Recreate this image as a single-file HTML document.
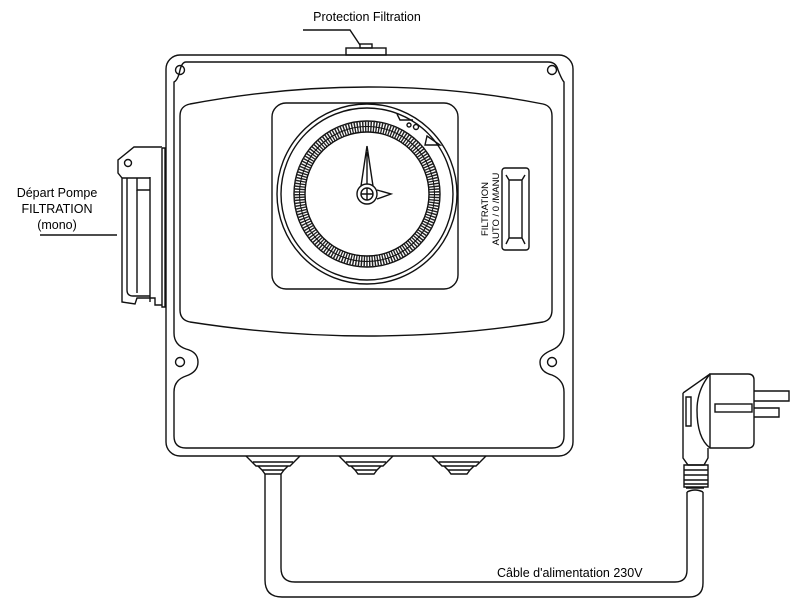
<!DOCTYPE html>
<html><head><meta charset="utf-8"><style>
html,body{margin:0;padding:0;background:#fff;width:800px;height:612px;overflow:hidden}
svg{display:block}
text{font-family:"Liberation Sans","DejaVu Sans",sans-serif;fill:#000}
</style></head><body>
<svg width="800" height="612" viewBox="0 0 800 612" xmlns="http://www.w3.org/2000/svg" fill="none" stroke="#111" stroke-width="1.4">
<!-- labels -->
<text x="367" y="21" font-size="12.5" text-anchor="middle" stroke="none">Protection Filtration</text>
<path d="M303 30 H350 L360 45"/>
<text x="57" y="197" font-size="12.5" text-anchor="middle" stroke="none">Départ Pompe</text>
<text x="57" y="213" font-size="12.5" text-anchor="middle" stroke="none">FILTRATION</text>
<text x="57" y="229" font-size="12.5" text-anchor="middle" stroke="none">(mono)</text>
<path d="M40 235 H117"/>
<text x="497" y="577" font-size="12.5" stroke="none">Câble d'alimentation 230V</text>

<!-- top knob -->
<rect x="346" y="48" width="40" height="7"/>
<rect x="360" y="44" width="12" height="4"/>

<!-- main box -->
<rect x="166" y="55" width="407" height="401" rx="14"/>
<path d="M186 62 H548 Q556 62 558 70 Q562 80 564 82 V330 Q564 345 552 350 Q540 355 540 362 Q540 372 552 375 Q564 380 564 392 V436 Q564 448 552 448 H186 Q174 448 174 436 V392 Q174 380 186 376 Q198 372 198 362 Q198 352 186 349 Q174 345 174 333 V82 Q178 80 180 70 Q182 62 186 62Z"/>
<circle cx="180" cy="70" r="4.5"/><circle cx="552" cy="70" r="4.5"/>
<circle cx="180" cy="362" r="4.5"/><circle cx="552" cy="362" r="4.5"/>
<!-- panel -->
<path d="M190 104 Q370 70 543 104 Q552 106 552 116 V310 Q552 320 543 322 Q370 350 190 322 Q180 320 180 310 V116 Q180 106 190 104Z"/>
<!-- timer square -->
<rect x="272" y="103" width="186" height="186" rx="14"/>
<circle cx="367" cy="194" r="90"/>
<circle cx="367" cy="194" r="86"/>
<circle cx="367" cy="194" r="73"/>
<circle cx="367" cy="194" r="67.5" stroke="#222" stroke-width="11" stroke-dasharray="1.4 1.3"/>
<circle cx="367" cy="194" r="67.5" stroke-width="1"/>
<circle cx="367" cy="194" r="62"/>
<path d="M367 146 L361 186 M367 146 L373 186 M367 152 V184" />
<path d="M377 190 L391 194 L377 199"/>
<circle cx="367" cy="194" r="10" fill="#fff"/>
<circle cx="367" cy="194" r="6"/>
<path d="M367 188 V200 M361 194 H373"/>
<path d="M397 114 L400 120 H413 M427 136 L440 145 H425Z"/>
<circle cx="409" cy="125" r="2"/><circle cx="416" cy="127" r="2.5"/>
<!-- switch -->
<rect x="502" y="168" width="27" height="82" rx="3"/>
<path d="M506 175 L509 180 V238 L506 244 M525 175 L522 180 V238 L525 244 M509 180 H522 M509 238 H522"/>
<text transform="translate(488,209) rotate(-90)" font-size="9.5" text-anchor="middle" stroke="none">FILTRATION</text>
<text transform="translate(499,209) rotate(-90)" font-size="9.5" text-anchor="middle" stroke="none">AUTO / 0 /MANU</text>

<!-- left socket -->
<path d="M165 148 V307 M162 148 H165 V307 H162 V148"/>
<path d="M162 147 H134 L118 160 V173 L122 178 V302 L135 304 L137 298 H155 V305 H162"/>
<circle cx="128" cy="163" r="3.5"/>
<path d="M122 178 H150 V302 M127 178 V290 Q127 296 133 296 H150 M137 178 V190 H150 M150 177 V300"/>
<path d="M137 190 V293"/>

<!-- glands -->
<g id="g1">
<path d="M246 456 L256 466 H290 L300 456"/>
<path d="M253 462 H293 M258 466 L262 470 H284 L288 466 M262 470 L265 474 H281 L284 470"/>
</g>
<use href="#g1" x="93"/>
<use href="#g1" x="186"/>

<!-- cable -->
<path d="M265 474 V580 Q265 597 282 597 H689 Q703 597 703 583 V492"/>
<path d="M281 474 V568 Q281 582 295 582 H675 Q687 582 687 570 V492"/>
<!-- strain relief -->
<path d="M687 492 Q695 488 703 492 M686 488 H704 M684 465 H708 V487 H684Z M684 470 H708 M684 475 H708 M684 480 H708 M684 484 H708"/>
<!-- plug -->
<path d="M683 393 V458 L688 465 H704 L708 458 V448 M683 393 L710 374"/>
<path d="M686 397 H691 V426 H686Z"/>
<path d="M710 374 Q697 390 697 410 Q697 438 710 448"/>
<path d="M710 374 H748 Q754 374 754 380 V442 Q754 448 748 448 H710 Z"/>
<rect x="715" y="404" width="37" height="8"/>
<path d="M754 391 H789 V401 H754 M754 408 H779 V417 H754"/>
</svg>
</body></html>
